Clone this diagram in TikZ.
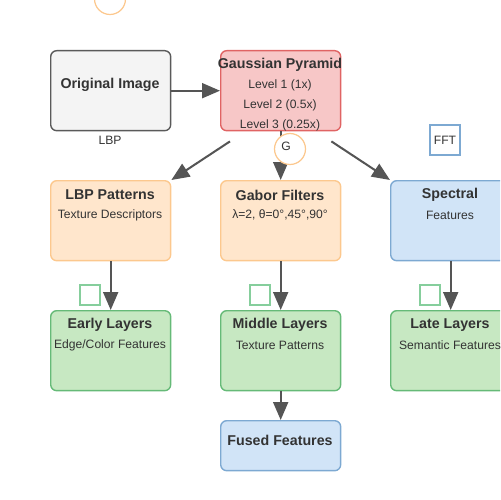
\documentclass[tikz,border=0pt]{standalone}
\usepackage{fontspec}
\setmainfont{Liberation Sans}
\usetikzlibrary{arrows.meta}
\usetikzlibrary{positioning}
\definecolor{ink}{HTML}{333333}
\definecolor{arrowgray}{HTML}{555555}
\definecolor{grayfill}{HTML}{F4F4F4}
\definecolor{graydraw}{HTML}{5A5A5A}
\definecolor{redfill}{HTML}{F7C7C7}
\definecolor{reddraw}{HTML}{E06464}
\definecolor{orangefill}{HTML}{FFE6CC}
\definecolor{orangedraw}{HTML}{FCC88E}
\definecolor{bluefill}{HTML}{D1E4F7}
\definecolor{bluedraw}{HTML}{7DA9D2}
\definecolor{greenfill}{HTML}{C7E8C2}
\definecolor{greendraw}{HTML}{66BA78}
\definecolor{greenmark}{HTML}{86CE9C}
\tikzset{box/.style = {draw, rounded corners=0.12cm, line width=0.8pt,
                       minimum width=2.4cm, minimum height=1.6cm,
                       anchor=north west, inner sep=0pt},
         title/.style = {font=\bfseries\fontsize{8.1}{9}\selectfont, text=ink},
         sub/.style = {font=\fontsize{6.9}{8}\selectfont, text=ink},
         flow/.style = {draw=arrowgray, line width=1.15pt,
                        -{Triangle[length=0.36cm, width=0.3cm]}},
         ring/.style = {circle, draw=orangedraw, line width=0.7pt,
                        minimum size=0.62cm, inner sep=0pt},
         tag/.style = {draw, line width=0.8pt, fill=white,
                       minimum size=0.4cm, inner sep=0pt}}

\begin{document}
\begin{tikzpicture}[x=0.02cm,y=-0.02cm]
    \useasboundingbox (0,0) rectangle (500,500);
    \clip (0,0) rectangle (500,500);
    % top row
    \node [ring] (topring) at (110,-1) {};
    \node [box, fill=grayfill, draw=graydraw] (orig) at (50,50) {};
    \node [title] (origtitle) at (110,85) {Original Image};
    \node [sub] (lbplabel) at (110,140) {LBP};
    \node [box, fill=redfill, draw=reddraw] (gauss) at (220,50) {};
    \node [title] (gausstitle) at (280,65) {Gaussian Pyramid};
    \node [sub] (level1) at (280,85) {Level 1 (1x)};
    \node [sub] (level2) at (280,105) {Level 2 (0.5x)};
    \node [sub] (level3) at (280,125) {Level 3 (0.25x)};
    \node [tag, draw=bluedraw, minimum size=0.6cm] (fft) at (445,140) {};
    \node [sub] (fftlabel) at (445,140) {FFT};
    % feature extractors
    \node [box, fill=orangefill, draw=orangedraw] (lbp) at (50,180) {};
    \node [title] (lbptitle) at (110,195) {LBP Patterns};
    \node [sub] (lbpsub) at (110,215) {Texture Descriptors};
    \node [box, fill=orangefill, draw=orangedraw] (gabor) at (220,180) {};
    \node [title] (gabortitle) at (280,195) {Gabor Filters};
    \node [sub] (gaborsub) at (280,215) {λ=2, θ=0°,45°,90°};
    \node [box, fill=bluefill, draw=bluedraw] (spectral) at (390,180) {};
    \node [title] (spectraltitle) at (450,195) {Spectral};
    \node [sub] (spectralsub) at (450,215) {Features};
    % layers
    \node [box, fill=greenfill, draw=greendraw] (early) at (50,310) {};
    \node [title] (earlytitle) at (110,325) {Early Layers};
    \node [sub] (earlysub) at (110,345) {Edge/Color Features};
    \node [box, fill=greenfill, draw=greendraw] (middle) at (220,310) {};
    \node [title] (middletitle) at (280,325) {Middle Layers};
    \node [sub] (middlesub) at (280,345) {Texture Patterns};
    \node [box, fill=greenfill, draw=greendraw] (late) at (390,310) {};
    \node [title] (latetitle) at (450,325) {Late Layers};
    \node [sub] (latesub) at (450,345) {Semantic Features};
    \node [box, fill=bluefill, draw=bluedraw, minimum height=1cm] (fused) at (220,420) {};
    \node [title] (fusedtitle) at (280,440) {Fused Features};
    % connectors
    \draw [flow] (orig.east) -- (gauss.west);
    \draw [flow] ([xshift=0.2cm, yshift=-0.2cm]gauss.south west) -- (lbp.north east);
    \draw [flow] (gauss.south) -- (gabor.north);
    \draw [flow] ([xshift=-0.2cm, yshift=-0.2cm]gauss.south east) -- (spectral.north west);
    \draw [flow] (lbp.south) -- (early.north);
    \draw [flow] (gabor.south) -- (middle.north);
    \draw [flow] (spectral.south) -- (late.north);
    \draw [flow] (middle.south) -- (fused.north);
    % marks
    \node [ring, fill=white] (gring) at (290,149) {};
    \node [sub] (glabel) at (286,146) {G};
    \foreach \x in {90, 260, 430} {
      \node [tag, draw=greenmark] (mark\x) at (\x,295) {};
    }
  \end{tikzpicture}
\end{document}
